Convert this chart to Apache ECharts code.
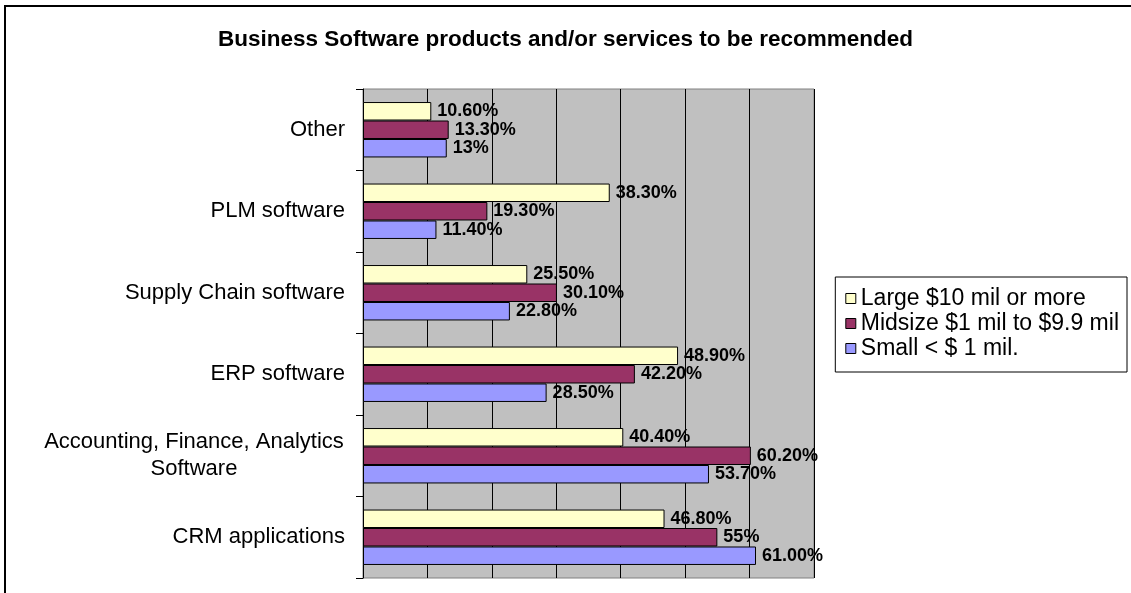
<!DOCTYPE html>
<html>
<head>
<meta charset="utf-8">
<script src="https://cdn.jsdelivr.net/npm/echarts@6/dist/echarts.min.js"></script>
<style>
  html, body { margin: 0; padding: 0; background: #fff; }
  #chart { width: 1131px; height: 593px; }
</style>
</head>
<body>
<div id="chart"></div>
<script>
// Categories listed bottom-to-top (ECharts category y-axis order)
const categories = [
  'CRM applications',
  'Accounting, Finance, Analytics\nSoftware',
  'ERP software',
  'Supply Chain software',
  'PLM software',
  'Other'
];
const seriesNames = ['Large $10 mil or more', 'Midsize $1 mil to $9.9 mil', 'Small < $ 1 mil.'];
// Percent values, kept as written on the labels
const largeValues   = ['46.80', '40.40', '48.90', '25.50', '38.30', '10.60'];
const midsizeValues = ['55',    '60.20', '42.20', '30.10', '19.30', '13.30'];
const smallValues   = ['61.00', '53.70', '28.50', '22.80', '11.40', '13'];

const FONT = '"Liberation Sans", Arial, Helvetica, sans-serif';
const colors = ['#FFFFCC', '#993366', '#9999FF'];
const valueSets = [largeValues, midsizeValues, smallValues];

const chart = echarts.init(document.getElementById('chart'), null, { renderer: 'canvas' });

const series = valueSets.map((vals, i) => ({
  name: seriesNames[i],
  type: 'bar',
  data: vals.map(Number),
  barGap: '0%',
  barCategoryGap: '32%',
  itemStyle: { color: colors[i], borderColor: '#000', borderWidth: 1 },
  label: {
    show: true,
    position: 'right',
    distance: 6,
    color: '#000',
    fontFamily: FONT,
    fontWeight: 'bold',
    fontSize: 18,
    formatter: p => vals[p.dataIndex] + '%'
  },
  emphasis: { disabled: true },
  animation: false
}));

chart.setOption({
  animation: false,
  backgroundColor: '#fff',
  graphic: [{
    type: 'rect',
    z: -10,
    shape: { x: 5, y: 6, width: 1140, height: 600 },
    style: { fill: 'none', stroke: '#000', lineWidth: 2 }
  }],
  title: {
    text: 'Business Software products and/or services to be recommended',
    left: 'center',
    top: 28,
    padding: [0, 0, 0, 14],
    textStyle: { fontFamily: FONT, fontWeight: 'bold', fontSize: 22.5, color: '#000' }
  },
  legend: {
    orient: 'vertical',
    right: 4,
    top: 277,
    data: seriesNames,
    itemWidth: 10,
    itemHeight: 10,
    itemGap: 2,
    itemTextGap: 11,
    padding: [10, 8, 12, 10],
    borderColor: '#000',
    borderWidth: 1,
    backgroundColor: '#fff',
    icon: 'rect',
    itemStyle: { borderColor: '#000', borderWidth: 1 },
    textStyle: { fontFamily: FONT, fontSize: 23, lineHeight: 20, color: '#000' }
  },
  grid: {
    left: 363,
    top: 89,
    right: 317,
    bottom: 15,
    show: true,
    backgroundColor: '#C0C0C0',
    borderColor: '#808080',
    borderWidth: 1
  },
  xAxis: {
    type: 'value',
    min: 0,
    max: 70,
    interval: 10,
    axisLabel: { show: false },
    axisLine: { show: false },
    axisTick: { show: false },
    splitLine: { show: true, lineStyle: { color: '#000', width: 1 } }
  },
  yAxis: {
    type: 'category',
    data: categories,
    axisLine: { show: true, lineStyle: { color: '#000', width: 1 } },
    axisTick: { show: true, length: 7, inside: false, lineStyle: { color: '#000' } },
    axisLabel: {
      margin: 18,
      color: '#000',
      fontFamily: FONT,
      fontSize: 22,
      lineHeight: 27,
      formatter: v => v.indexOf('\n') >= 0
        ? v.split('\n').map(s => '{c|' + s + '}').join('\n')
        : v,
      rich: {
        c: { width: 302, align: 'center', fontFamily: FONT, fontSize: 22, lineHeight: 27, color: '#000' }
      }
    },
    splitLine: { show: false }
  },
  series: series
});
</script>
</body>
</html>
